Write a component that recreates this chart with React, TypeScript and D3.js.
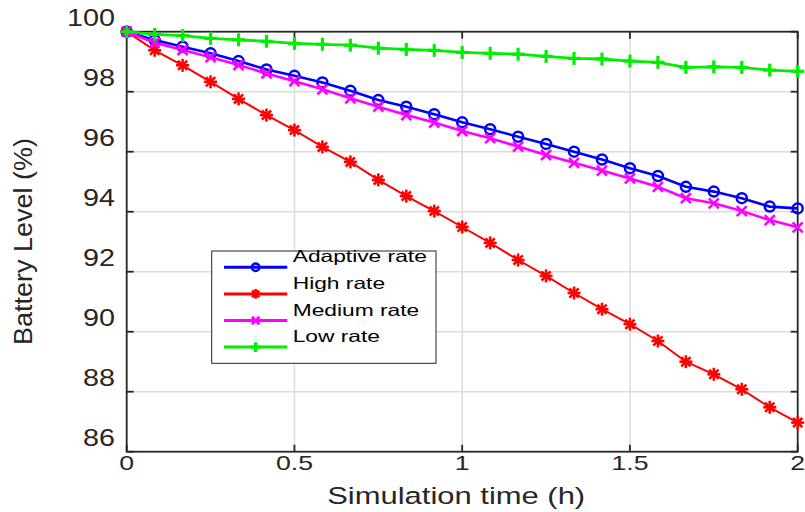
import React from "react";
import * as d3 from "d3";

const times: number[] = d3.range(25).map((i) => i / 12);
const adaptive: number[] = [100, 99.72, 99.5, 99.28, 99.02, 98.74, 98.53, 98.31, 98.03, 97.72, 97.5, 97.25, 96.98, 96.75, 96.5, 96.26, 96.0, 95.74, 95.45, 95.19, 94.83, 94.67, 94.45, 94.17, 94.11];
const high: number[] = [100, 99.38, 98.88, 98.33, 97.76, 97.22, 96.72, 96.16, 95.66, 95.06, 94.52, 94.02, 93.49, 92.96, 92.39, 91.86, 91.29, 90.75, 90.25, 89.69, 89.0, 88.58, 88.08, 87.48, 86.97];
const medium: number[] = [100, 99.63, 99.39, 99.15, 98.89, 98.61, 98.35, 98.08, 97.78, 97.5, 97.22, 96.97, 96.69, 96.45, 96.17, 95.89, 95.63, 95.37, 95.11, 94.83, 94.45, 94.28, 94.02, 93.72, 93.48];
const low: number[] = [100, 99.91, 99.87, 99.78, 99.73, 99.68, 99.61, 99.58, 99.55, 99.45, 99.41, 99.38, 99.31, 99.28, 99.25, 99.18, 99.11, 99.09, 99.02, 98.98, 98.81, 98.83, 98.81, 98.72, 98.68];

const seriesNames: string[] = ["Adaptive rate", "High rate", "Medium rate", "Low rate"];
const xTicks: number[] = [0, 0.5, 1, 1.5, 2];
const yTicks: number[] = [86, 88, 90, 92, 94, 96, 98, 100];

const W = 805, H = 512;
const L = 126.7, R = 797.7, T = 31.7, B = 451.7;

type Marker = "circle" | "star" | "x" | "plus";

function MarkerShape({ kind, cx, cy, color, s }: { kind: Marker; cx: number; cy: number; color: string; s: number }) {
  if (kind === "circle") {
    return <circle cx={cx} cy={cy} r={5 * s} fill="none" stroke={color} strokeWidth={2.5} />;
  }
  if (kind === "star") {
    const a = 6.5 * s, d = 4.6 * s;
    return (
      <g stroke={color} strokeWidth={2.6}>
        <line x1={cx - a} y1={cy} x2={cx + a} y2={cy} />
        <line x1={cx} y1={cy - a} x2={cx} y2={cy + a} />
        <line x1={cx - d} y1={cy - d} x2={cx + d} y2={cy + d} />
        <line x1={cx - d} y1={cy + d} x2={cx + d} y2={cy - d} />
      </g>
    );
  }
  if (kind === "x") {
    const d = 5 * s;
    return (
      <g stroke={color} strokeWidth={2.6}>
        <line x1={cx - d} y1={cy - d} x2={cx + d} y2={cy + d} />
        <line x1={cx - d} y1={cy + d} x2={cx + d} y2={cy - d} />
      </g>
    );
  }
  const a = 6.5 * s;
  return (
    <g stroke={color} strokeWidth={3.2}>
      <line x1={cx - a} y1={cy} x2={cx + a} y2={cy} />
      <line x1={cx} y1={cy - a} x2={cx} y2={cy + a} />
    </g>
  );
}

export default function App() {
  const x = d3.scaleLinear().domain([0, 2]).range([L, R]);
  const y = d3.scaleLinear().domain([86, 100]).range([B, T]);
  const line = d3.line<number>().x((_, i) => x(times[i])).y((d) => y(d));

  const series = [
    { name: seriesNames[0], data: adaptive, color: "#0000ff", marker: "circle" as Marker, w: 2.6 },
    { name: seriesNames[1], data: high, color: "#ff0000", marker: "star" as Marker, w: 2.0 },
    { name: seriesNames[2], data: medium, color: "#ff00ff", marker: "x" as Marker, w: 2.6 },
    { name: seriesNames[3], data: low, color: "#00ee00", marker: "plus" as Marker, w: 2.8 },
  ];

  const font = "Liberation Sans, Arial, Helvetica, sans-serif";
  const axisColor = "#262626";
  const tickLen = 7;

  const legX = 211.7, legY = 251, legW = 224.3, legH = 112.3;
  const rowH = 26.6;

  return (
    <svg width={W} height={H} style={{ position: "absolute", left: 0, top: 0 }} fontFamily={font}>
      <rect x={0} y={0} width={W} height={H} fill="#ffffff" />
      {/* grid */}
      <g stroke="#dcdcdc" strokeWidth={1.5}>
        {xTicks.filter((t) => t > 0 && t < 2).map((t) => (
          <line key={"gx" + t} x1={x(t)} x2={x(t)} y1={T} y2={B} />
        ))}
        {yTicks.filter((t) => t > 86 && t < 100).map((t) => (
          <line key={"gy" + t} x1={L} x2={R} y1={y(t)} y2={y(t)} />
        ))}
      </g>
      {/* axes box */}
      <rect x={L} y={T} width={R - L} height={B - T} fill="none" stroke={axisColor} strokeWidth={1.8} />
      <g stroke={axisColor} strokeWidth={1.8}>
        {xTicks.map((t) => (
          <g key={"tx" + t}>
            <line x1={x(t)} x2={x(t)} y1={B} y2={B - tickLen} />
            <line x1={x(t)} x2={x(t)} y1={T} y2={T + tickLen} />
          </g>
        ))}
        {yTicks.map((t) => (
          <g key={"ty" + t}>
            <line x1={L} x2={L + tickLen} y1={y(t)} y2={y(t)} />
            <line x1={R} x2={R - tickLen} y1={y(t)} y2={y(t)} />
          </g>
        ))}
      </g>
      {/* tick labels */}
      <g fill={axisColor} fontSize={21}>
        {xTicks.map((t) => (
          <text key={"lx" + t} transform={`translate(${x(t)},${470}) scale(1.27,1)`} textAnchor="middle">
            {d3.format("")(t)}
          </text>
        ))}
      </g>
      <g fill={axisColor} fontSize={23}>
        {yTicks.map((t) => (
          <text key={"ly" + t} transform={`translate(${115},${y(t) - 5.5}) scale(1.25,1)`} textAnchor="end">
            {t}
          </text>
        ))}
      </g>
      {/* axis titles */}
      <text x={(L + R) / 2 - 6} y={504} textAnchor="middle" fontSize={24.5} fill={axisColor} textLength={258} lengthAdjust="spacingAndGlyphs">
        Simulation time (h)
      </text>
      <text transform={`translate(31.5,241.5) rotate(-90)`} textAnchor="middle" fontSize={25.5} fill={axisColor} textLength={207} lengthAdjust="spacingAndGlyphs">
        Battery Level (%)
      </text>
      {/* series */}
      {series.map((s) => (
        <g key={s.name}>
          <path d={line(s.data) || ""} fill="none" stroke={s.color} strokeWidth={s.w} />
          {s.data.map((v, i) => (
            <MarkerShape key={i} kind={s.marker} cx={x(times[i])} cy={y(v)} color={s.color} s={1} />
          ))}
        </g>
      ))}
      {/* legend */}
      <rect x={legX} y={legY} width={legW} height={legH} fill="#ffffff" stroke={axisColor} strokeWidth={1} />
      {series.map((s, i) => {
        const ly = 267.3 + i * rowH;
        return (
          <g key={"leg" + s.name}>
            <line x1={224} x2={287.3} y1={ly} y2={ly} stroke={s.color} strokeWidth={3} />
            <MarkerShape kind={s.marker} cx={(224 + 287.3) / 2} cy={ly} color={s.color} s={0.75} />
            <text transform={`translate(292.7,${ly - 5}) scale(1.38,1)`} fontSize={16.5} fill="#000000">
              {s.name}
            </text>
          </g>
        );
      })}
    </svg>
  );
}
